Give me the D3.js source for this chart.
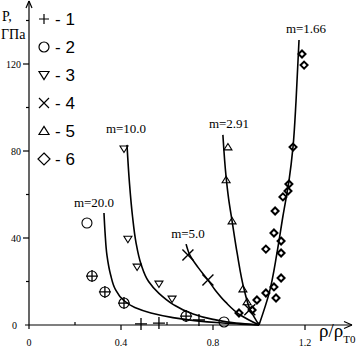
<!DOCTYPE html>
<html>
<head>
<meta charset="utf-8">
<script src="https://cdn.jsdelivr.net/npm/d3@7"></script>
<style>
  body { margin: 0; background: #fff; }
</style>
</head>
<body>
<div id="chart"></div>
<script>
let width = 360;
let height = 349;

// tick labels
let xTicks = [0, 0.4, 0.8, 1.2];
let xMinor = [0.2, 0.6, 1.0];
let yTicks = [0, 40, 80, 120];
let yMinor = [20, 60, 100, 140];

// model curves, [rho/rhoT0, P]
let m166 = [[1,0],[1.045,15],[1.078,33],[1.104,50],[1.13,66],[1.148,82],[1.161,103],[1.174,131]];
let m291 = [[1,0],[0.962,7],[0.935,16.5],[0.905,33],[0.883,47.8],[0.868,58],[0.857,68],[0.843,87.4]];
let m50 = [[1,0],[0.92,4.5],[0.855,10.5],[0.81,16],[0.778,20.7],[0.735,26.5],[0.7,32],[0.683,37.2]];
let m100 = [[1,0],[0.9,0.9],[0.8,2.6],[0.7,5.6],[0.626,9.5],[0.565,14.5],[0.52,20],[0.487,28],[0.465,38],[0.45,50],[0.437,65],[0.426,82.8]];
let m200 = [[1,0],[0.92,0.4],[0.83,1],[0.72,2],[0.62,3.5],[0.53,5.5],[0.46,8],[0.41,11.5],[0.375,16.5],[0.355,23],[0.339,32],[0.331,42],[0.326,51.5]];
let curveLabels = ["m=1.66", "m=2.91", "m=5.0", "m=10.0", "m=20.0"];

// experimental points
let set1 = [[0.487,0.5],[0.565,0.9],[0.739,2.3],[0.274,22.5],[0.33,15.2],[0.413,10.1],[0.683,4.1]];
let set2 = [[0.252,46.9],[0.274,22.5],[0.33,15.2],[0.413,10.1],[0.683,4.1],[0.848,1.4]];
let set3 = [[0.413,81],[0.43,39.5],[0.47,26.7],[0.565,18.9],[0.622,12]];
let set4 = [[0.691,32.2],[0.778,20.7],[0.96,7]];
let set5 = [[0.865,81.8],[0.857,66.7],[0.883,47.8],[0.93,16.5],[0.948,10.6]];
let set6 = [[1.187,124.6],[1.196,119.5],[1.148,81.8],[1.13,64.8],[1.126,61.6],[1.104,58.9],[1.07,52.4],
            [1.065,42.3],[1.096,38.6],[1.096,33.1],[1.03,34.9],[1.096,21.6],[1.03,14.7],[1.065,17.5],
            [1.074,12.4],[0.991,11.5],[0.97,6.9],[0.913,5.5]];
let legendNames = ["1", "2", "3", "4", "5", "6"];

let serif = "'Liberation Serif', 'Times New Roman', 'DejaVu Serif', serif";
let sans = "'Liberation Sans', Arial, sans-serif";

let svg = d3.select("#chart")
  .append("svg")
    .attr("width", width)
    .attr("height", height)
    .attr("font-family", serif);

let xScale = d3.scaleLinear().domain([0, 1.2]).range([29, 305]);
let yScale = d3.scaleLinear().domain([0, 120]).range([325, 64]);

// axes
let ax = svg.append("g").attr("stroke", "#000").attr("stroke-width", 1.2);
ax.append("line").attr("x1", 25).attr("x2", 352).attr("y1", yScale(0)).attr("y2", yScale(0));
ax.append("line").attr("x1", xScale(0)).attr("x2", xScale(0)).attr("y1", 329).attr("y2", 1);
svg.append("path").attr("d", "M352,325 L344,321.5 M352,325 L344,328.5").attr("stroke", "#000").attr("stroke-width", 1.2).attr("fill", "none");
svg.append("path").attr("d", "M29,1 L26,8 M29,1 L32,8").attr("stroke", "#000").attr("stroke-width", 1.2).attr("fill", "none");

ax.selectAll(".xt").data(xTicks.slice(1)).enter().append("line")
  .attr("x1", d => xScale(d)).attr("x2", d => xScale(d)).attr("y1", 325).attr("y2", 330);
ax.selectAll(".xm").data(xMinor).enter().append("line")
  .attr("x1", d => xScale(d)).attr("x2", d => xScale(d)).attr("y1", 322).attr("y2", 325);
ax.selectAll(".yt").data(yTicks.slice(1)).enter().append("line")
  .attr("x1", 23).attr("x2", 29).attr("y1", d => yScale(d)).attr("y2", d => yScale(d));
ax.selectAll(".ym").data(yMinor).enter().append("line")
  .attr("x1", 26).attr("x2", 29).attr("y1", d => yScale(d)).attr("y2", d => yScale(d));

svg.selectAll(".xl").data(xTicks).enter().append("text")
  .attr("x", d => xScale(d)).attr("y", 346)
  .attr("text-anchor", "middle").attr("font-size", 10)
  .text(d => d == 0 ? "0" : d.toFixed(1));
svg.selectAll(".yl").data(yTicks).enter().append("text")
  .attr("x", d => d == 0 ? 17 : 21).attr("y", d => yScale(d) + 4)
  .attr("text-anchor", "end").attr("font-size", 10)
  .text(d => d);

svg.append("text").attr("x", 2).attr("y", 21).attr("font-size", 14).text("P,");
svg.append("text").attr("x", 1).attr("y", 39).attr("font-size", 14).text("ГПа");

let xl = svg.append("text").attr("x", 319).attr("y", 337).attr("font-size", 19);
xl.append("tspan").text("ρ/ρ");
xl.append("tspan").attr("dy", 6).attr("font-size", 11).text("T0");

// curves (drawn top to bottom so the monotone spline works in screen y)
let line = d3.line()
  .x(d => xScale(d[0]))
  .y(d => yScale(d[1]))
  .curve(d3.curveMonotoneY);

let curves = [m166, m291, m50, m100, m200];
svg.selectAll(".curve").data(curves).enter().append("path")
  .attr("class", "curve")
  .attr("d", d => line(d.slice().reverse()))
  .attr("fill", "none")
  .attr("stroke", "#000")
  .attr("stroke-width", 1.6);

let labelPos = [[306, 33], [229, 128], [188, 238], [126, 133], [94, 207]];
svg.selectAll(".clab").data(curveLabels).enter().append("text")
  .attr("x", (d, i) => labelPos[i][0]).attr("y", (d, i) => labelPos[i][1])
  .attr("text-anchor", "middle").attr("font-size", 13)
  .text(d => d);

// marker shapes
function plus(s) { return "M" + (-s) + ",0H" + s + "M0," + (-s) + "V" + s; }
function cross(s) { return "M" + (-s) + "," + (-s) + "L" + s + "," + s + "M" + (-s) + "," + s + "L" + s + "," + (-s); }
function circle(s) { return "M" + (-s) + ",0A" + s + "," + s + " 0 1,0 " + s + ",0A" + s + "," + s + " 0 1,0 " + (-s) + ",0Z"; }
function triDown(s) { return "M" + (-s) + "," + (-s * 0.7) + "H" + s + "L0," + (s * 0.9) + "Z"; }
function triUp(s) { return "M" + (-s) + "," + (s * 0.7) + "H" + s + "L0," + (-s * 0.9) + "Z"; }
function diamond(s) { return "M0," + (-s) + "L" + s + ",0L0," + s + "L" + (-s) + ",0Z"; }

let shapes = [plus, circle, triDown, cross, triUp, diamond];
let sets = [set1, set2, set3, set4, set5, set6];
let sizes = [6, 5, 4, 5.5, 4, 3.5];
let widths = [1.3, 1.1, 1.1, 1.4, 1.1, 2];

sets.forEach(function(set, k) {
  svg.selectAll(".pt" + k).data(set).enter().append("path")
    .attr("transform", d => "translate(" + xScale(d[0]) + "," + yScale(d[1]) + ")")
    .attr("d", shapes[k](sizes[k]))
    .attr("fill", "none")
    .attr("stroke", "#000")
    .attr("stroke-width", widths[k]);
});

// legend
let legendSizes = [5, 5, 5, 5, 5, 6];
let leg = svg.selectAll(".leg").data(legendNames).enter().append("g")
  .attr("transform", (d, i) => "translate(44," + (19 + i * 28) + ")");
leg.append("path")
  .attr("d", (d, i) => shapes[i](legendSizes[i]))
  .attr("fill", "none").attr("stroke", "#000").attr("stroke-width", 1.2);
leg.append("text")
  .attr("x", 11).attr("y", 6)
  .attr("font-family", sans)
  .attr("font-size", 17)
  .text(d => "- " + d);
</script>
</body>
</html>
